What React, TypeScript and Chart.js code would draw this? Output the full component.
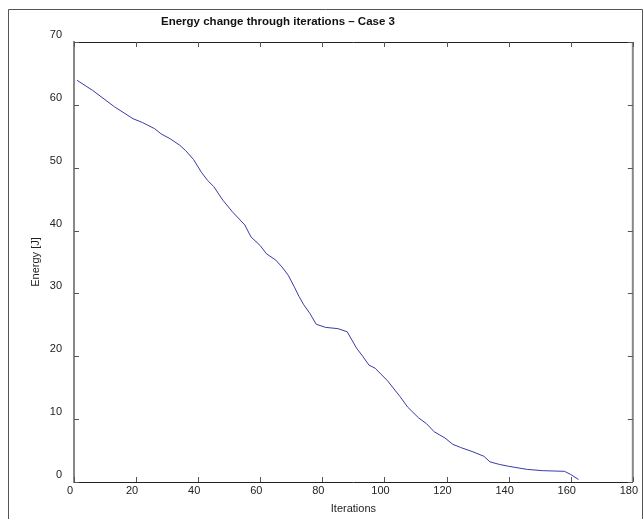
import React, { useEffect, useRef } from "react";
import { Chart, registerables } from "chart.js";

Chart.register(...registerables);

const chartTitle = "Energy change through iterations \u2013 Case 3";
const xAxisTitle = "Iterations";
const yAxisTitle = "Energy [J]";

const iterations = [
  1, 6, 13, 19, 22, 26, 28, 31, 34, 36, 38.5, 41, 43, 45, 48, 51, 55, 57, 60, 62,
  65, 67, 69, 71, 72.5, 74, 76, 78, 81, 85, 88, 91, 93, 95, 97, 101, 105, 107.5,
  111, 113.5, 116, 119.5, 122, 124.5, 128.5, 132, 134, 137, 140, 146, 151, 158,
  160, 162.5,
];
const energy = [
  63.9, 62.3, 59.7, 57.8, 57.2, 56.2, 55.4, 54.6, 53.6, 52.7, 51.3, 49.3, 48.0,
  47.0, 44.8, 43.0, 40.9, 39.0, 37.6, 36.3, 35.3, 34.2, 32.9, 31.0, 29.5, 28.2,
  26.8, 25.1, 24.6, 24.4, 23.9, 21.3, 20.0, 18.6, 18.1, 16.1, 13.6, 11.9, 10.2,
  9.3, 8.0, 7.0, 6.0, 5.5, 4.8, 4.1, 3.2, 2.8, 2.5, 2.0, 1.8, 1.7, 1.2, 0.4,
];

const xTicks = [0, 20, 40, 60, 80, 100, 120, 140, 160, 180];
const yTicks = [0, 10, 20, 30, 40, 50, 60, 70];

const FONT = "'Liberation Sans', Arial, Helvetica, sans-serif";

const decorPlugin = {
  id: "decor",
  beforeDraw(chart: any) {
    const { ctx, width, height } = chart;
    ctx.save();
    ctx.fillStyle = "#ffffff";
    ctx.fillRect(0, 0, width, height);
    ctx.restore();
  },
  afterDraw(chart: any) {
    const { ctx, chartArea } = chart;
    const { left, right, top, bottom } = chartArea;
    const xs = chart.scales.x;
    const ys = chart.scales.y;
    ctx.save();
    ctx.strokeStyle = "#222";
    ctx.lineWidth = 1;
    ctx.beginPath();
    ctx.moveTo(left, top + 0.5);
    ctx.lineTo(right, top + 0.5);
    ctx.stroke();
    ctx.strokeStyle = "#888";
    ctx.lineWidth = 2;
    ctx.beginPath();
    ctx.moveTo(right, top);
    ctx.lineTo(right, bottom);
    ctx.stroke();
    ctx.strokeStyle = "#555";
    ctx.lineWidth = 1;
    const tl = 5;
    xs.ticks.forEach((t: any) => {
      const px = Math.round(xs.getPixelForValue(t.value)) + 0.5;
      ctx.beginPath();
      ctx.moveTo(px, bottom);
      ctx.lineTo(px, bottom - tl);
      ctx.moveTo(px, top);
      ctx.lineTo(px, top + tl);
      ctx.stroke();
    });
    ys.ticks.forEach((t: any) => {
      const py = Math.round(ys.getPixelForValue(t.value)) + 0.5;
      ctx.beginPath();
      ctx.moveTo(left, py);
      ctx.lineTo(left + tl, py);
      ctx.moveTo(right, py);
      ctx.lineTo(right - tl, py);
      ctx.stroke();
    });
    ctx.fillStyle = "#111";
    ctx.font = `bold 11.5px ${FONT}`;
    ctx.textAlign = "center";
    ctx.textBaseline = "middle";
    ctx.fillText(chartTitle, left + (right - left) * 0.365, top - 20.5);
    ctx.strokeStyle = "#555";
    ctx.lineWidth = 1;
    ctx.beginPath();
    ctx.moveTo(8.5, chart.height + 5);
    ctx.lineTo(8.5, 9.5);
    ctx.lineTo(642.5, 9.5);
    ctx.lineTo(642.5, chart.height + 5);
    ctx.stroke();
    ctx.restore();
  },
};

export default function App() {
  const ref = useRef<HTMLCanvasElement | null>(null);
  useEffect(() => {
    if (!ref.current) return;
    const points = iterations.map((x, i) => ({ x, y: energy[i] }));
    const chart = new Chart(ref.current, {
      type: "line",
      data: {
        datasets: [
          {
            data: points,
            borderColor: "#3a3aa6",
            borderWidth: 1,
            pointRadius: 0,
            tension: 0,
            fill: false,
          },
        ],
      },
      options: {
        animation: false,
        responsive: false,
        devicePixelRatio: 1,
        layout: { padding: { left: 0, top: 42, right: 11, bottom: 0 } },
        plugins: {
          legend: { display: false },
          title: { display: false },
          tooltip: { enabled: false },
        },
        scales: {
          x: {
            type: "linear",
            min: 0,
            max: 180,
            afterBuildTicks: (s: any) => {
              s.ticks = xTicks.map((v) => ({ value: v }));
            },
            afterFit: (s: any) => {
              s.height = 37;
            },
            grid: { display: false, drawTicks: false },
            border: { display: true, color: "#222", width: 1 },
            ticks: {
              color: "#222",
              font: { family: FONT, size: 11 },
              padding: 2,
              labelOffset: -4,
              maxRotation: 0,
              autoSkip: false,
            },
            title: {
              display: true,
              text: xAxisTitle,
              color: "#222",
              font: { family: FONT, size: 11 },
              padding: { top: 0, bottom: 3 },
            },
          },
          y: {
            type: "linear",
            min: 0,
            max: 70,
            afterBuildTicks: (s: any) => {
              s.ticks = yTicks.map((v) => ({ value: v }));
            },
            afterFit: (s: any) => {
              s.width = 74;
            },
            grid: { display: false, drawTicks: false },
            border: { display: true, color: "#888", width: 2 },
            ticks: {
              color: "#222",
              font: { family: FONT, size: 11 },
              padding: 12,
              labelOffset: -7,
              autoSkip: false,
            },
            title: {
              display: true,
              text: yAxisTitle,
              color: "#222",
              font: { family: FONT, size: 11 },
              padding: { top: 29, bottom: 0 },
            },
          },
        },
      },
      plugins: [decorPlugin],
    });
    return () => chart.destroy();
  }, []);
  return (
    <canvas
      ref={ref}
      width={644}
      height={519}
      style={{ position: "fixed", left: 0, top: 0, width: 644, height: 519, display: "block" }}
    />
  );
}
